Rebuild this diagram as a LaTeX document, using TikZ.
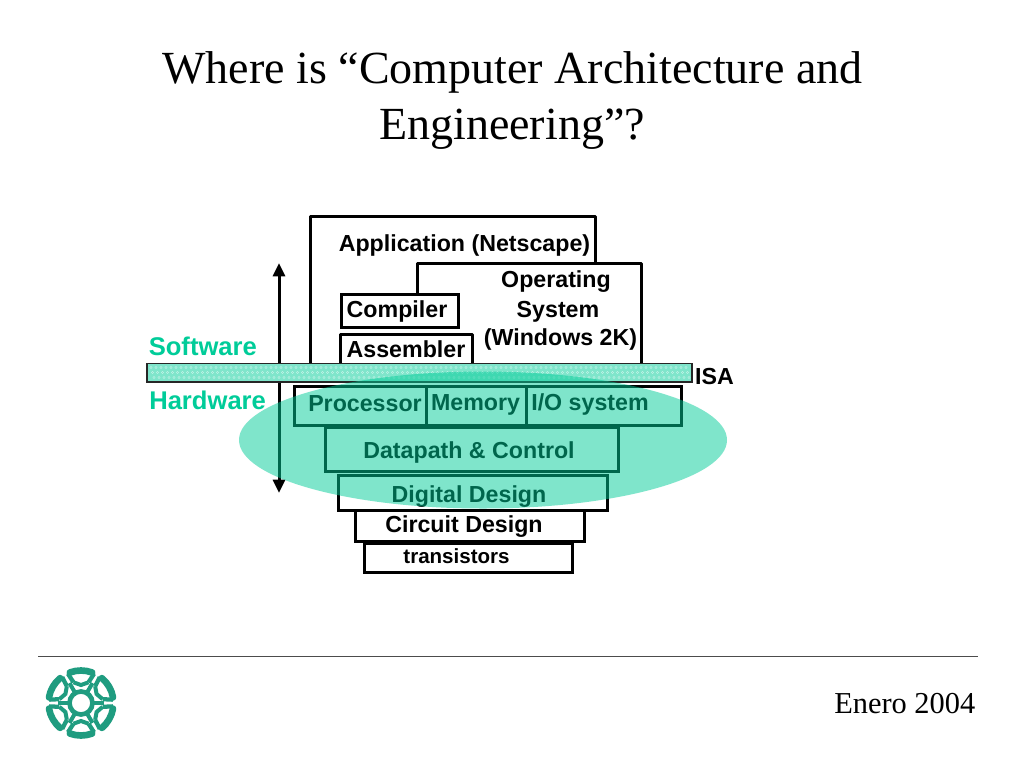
\documentclass[tikz,border=0pt]{standalone}
\usepackage{fontspec}
\setmainfont{Liberation Serif}
\newfontfamily\hv{Liberation Sans}
\usetikzlibrary{arrows.meta}
\definecolor{teal1}{HTML}{00CC99}
\definecolor{barfill}{HTML}{7FE5CB}
\definecolor{logoc}{HTML}{1F9C80}
\tikzset{
  lbl/.style={font=\hv\bfseries\fontsize{17.4}{19}\selectfont,text=black,inner sep=0pt},
  side/.style={font=\hv\bfseries\fontsize{19.2}{21}\selectfont,text=teal1,inner sep=0pt,anchor=west},
  wall/.style={draw=black,line width=2.25pt,line cap=round,line join=round},
}
\newcommand{\layerbox}[5]{% name,x1,y1,x2,y2
  \draw[draw=black,line width=2.25pt] (#2,#3) rectangle (#4,#5);
  \coordinate (#1) at ({(#2+#4)/2},{(#3+#5)/2});}
\begin{document}
\begin{tikzpicture}[x=0.75pt,y=-0.75pt]
\useasboundingbox (0,0) rectangle (1023,767);
\fill[white] (0,0) rectangle (1023,767);
% title
\node[font=\fontsize{34.5}{42}\selectfont,inner sep=0pt] (t1) at (512.5,72) {Where is “Computer Architecture and};
\node[font=\fontsize{34.5}{42}\selectfont,inner sep=0pt] (t2) at (512,129) {Engineering”?};
% software layers
\draw[wall] (310,366) -- (310,216) -- (595,216) -- (595,263);
\draw[wall] (417,293) -- (417,263) -- (641,263) -- (641,366);
\layerbox{comp}{341}{294}{458}{327}
\draw[wall] (340,366) -- (340,334) -- (472,334) -- (472,366);
\coordinate (asm) at (406,349);
% double arrow
\coordinate (au) at (279,263);
\coordinate (ad) at (279,493);
\draw[line width=2.25pt,{Triangle[length=10pt,width=9pt]}-{Triangle[length=10pt,width=9pt]}] (au) -- (ad);
% bar
\fill[barfill] (147,363.5) rectangle (692,382);
\foreach \r in {0,1,2}{
  \foreach \i in {0,...,107}{
    \draw[white!55!barfill,line width=0.35pt] ({151+\i*5+\r*1.5},{367.5+\r*5}) circle (1.1);
  }
}
\draw[black!85,line width=1.1pt] (147,363.5) rectangle (692,382);
% hardware layers
\layerbox{proc}{294}{386}{426}{425}
\layerbox{mem}{426}{386}{526}{425}
\layerbox{io}{526}{386}{681}{425}
\layerbox{dp}{325.5}{427}{618}{471}
\layerbox{dd}{338.5}{475}{607}{510}
\layerbox{cd}{355.5}{510.5}{584}{541}
\layerbox{tr}{364}{543}{572}{572}
% labels
\node[lbl] (napp) at (464.5,245) {Application (Netscape)};
\node[lbl] (nos1) at (556,281.5) {Operating};
\node[lbl] (nos2) at (558,311.5) {System};
\node[lbl] (nos3) at (560.5,339) {(Windows 2K)};
\node[lbl] (ncomp) at (397,311) {Compiler};
\node[lbl] (nasm) at (406,349.5) {Assembler};
\node[lbl] (nisa) at (714.5,376.5) {ISA};
\node[lbl] (nproc) at (365,403.5) {Processor};
\node[lbl] (nmem) at (475.5,405) {Memory};
\node[lbl] (nio) at (590,404) {I/O system};
\node[lbl] (ndp) at (469,452) {Datapath \& Control};
\node[lbl] (ndd) at (469,496.5) {Digital Design};
\node[lbl] (ncd) at (464,526.5) {Circuit Design};
\node[lbl,font=\hv\bfseries\fontsize{15.4}{17}\selectfont] (ntr) at (456.5,556.5) {transistors};
\node[side] (sw) at (148.5,346) {Software};
\node[side] (hw) at (149,400) {Hardware};
% ellipse
\fill[teal1,opacity=0.5] (483,440) ellipse (244 and 68.5);
% footer
\draw[black!70,line width=0.75pt] (38,656) -- (978,656);
\node[font=\fontsize{22.8}{26}\selectfont,inner sep=0pt,anchor=east] (en) at (975.5,704) {Enero 2004};
% logo
\begin{scope}[shift={(81,703)}]
\foreach \a in {30,90,...,330}{
  \draw[logoc,line width=5pt,line cap=round] (\a-20:32.5) arc[start angle=\a-20,end angle=\a+20,radius=32.5];
  \draw[logoc,line width=3.2pt] (\a-24:32) -- (\a-20:22);
  \draw[logoc,line width=3.2pt] (\a+24:32) -- (\a+20:22);
  \draw[logoc,line width=3pt] (\a+30:23) -- (\a+30:12);
  \draw[logoc,line width=3pt] (\a-20:22) -- (\a:18) -- (\a+20:22);
}
\draw[logoc,line width=3.5pt] (0,0) circle (11.5);
\fill[white] (0,0) circle (6.5);
\end{scope}
\end{tikzpicture}
\end{document}
